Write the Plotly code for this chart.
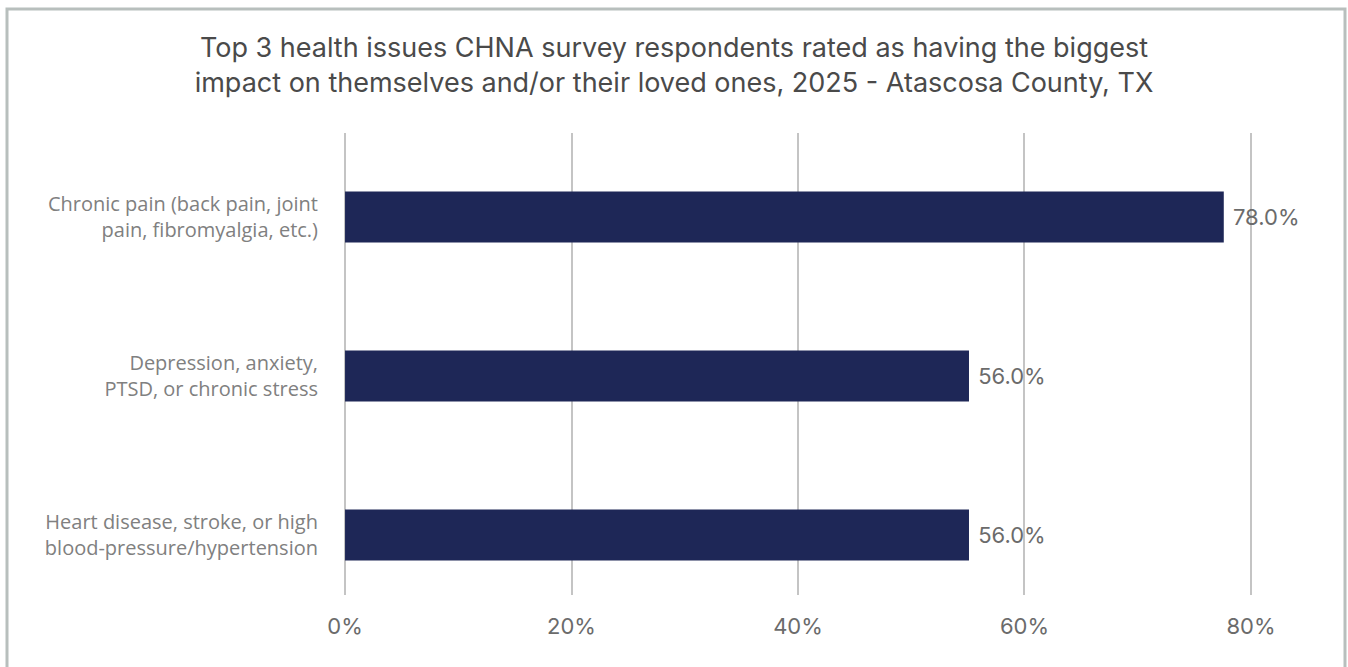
import plotly.graph_objects as go

categories = [
    "Chronic pain (back pain, joint<br>pain, fibromyalgia, etc.)",
    "Depression, anxiety,<br>PTSD, or chronic stress",
    "Heart disease, stroke, or high<br>blood-pressure/hypertension",
]
values = [77.6, 55.1, 55.1]
value_labels = ["78.0%", "56.0%", "56.0%"]
tick_vals = [0, 20, 40, 60, 80]
tick_text = ["0%", "20%", "40%", "60%", "80%"]
title_text = ("Top 3 health issues CHNA survey respondents rated as having the biggest<br>"
              "impact on themselves and/or their loved ones, 2025 - Atascosa County, TX")

W, H = 1348, 667
L, R, T, B = 343, 95, 133, 72
pw, ph = W - L - R, H - T - B

def px_x(x):
    return (x - L) / pw

def px_y(y):
    return (H - B - y) / ph

fig = go.Figure(go.Bar(
    y=categories,
    x=values,
    orientation="h",
    marker=dict(color="#1e2757", line=dict(width=0)),
    width=0.32,
    text=[" " + t for t in value_labels],
    textposition="outside",
    textfont=dict(family="Inter", size=22, color="#6b6b6b"),
    cliponaxis=False,
    hoverinfo="skip",
))

fig.update_layout(
    width=W, height=H,
    margin=dict(l=L, r=R, t=T, b=B, pad=0),
    paper_bgcolor="white",
    plot_bgcolor="white",
    showlegend=False,
    title=dict(
        text=title_text,
        x=0.5, xref="container", xanchor="center",
        y=1 - 57 / H, yref="container", yanchor="top",
        font=dict(family="Inter", size=27, color="#4a4a4a"),
    ),
    xaxis=dict(
        range=[-0.18, 80.18],
        tickvals=tick_vals,
        ticktext=tick_text,
        showgrid=True,
        gridcolor="#c4c4c4",
        gridwidth=2,
        zeroline=False,
        showline=False,
        ticks="",
        tickfont=dict(family="Inter", size=22, color="#6b6b6b"),
        ticklabelstandoff=16,
        fixedrange=True,
    ),
    yaxis=dict(
        categoryorder="array",
        categoryarray=categories,
        range=[2.377, -0.528],
        showgrid=False,
        zeroline=False,
        showline=False,
        ticks="",
        tickfont=dict(family="Open Sans", size=20, color="#808080"),
        ticklabelstandoff=24,
        fixedrange=True,
    ),
    shapes=[dict(
        type="rect", xref="paper", yref="paper",
        x0=px_x(7), x1=px_x(1345), y0=px_y(690), y1=px_y(9),
        line=dict(color="#b8bfbd", width=3),
        fillcolor="rgba(0,0,0,0)",
        layer="below",
    )],
)

fig.write_html(
    "out.html",
    config={"displayModeBar": False},
    post_script="document.body.style.margin='0';document.body.style.overflow='hidden';",
)
